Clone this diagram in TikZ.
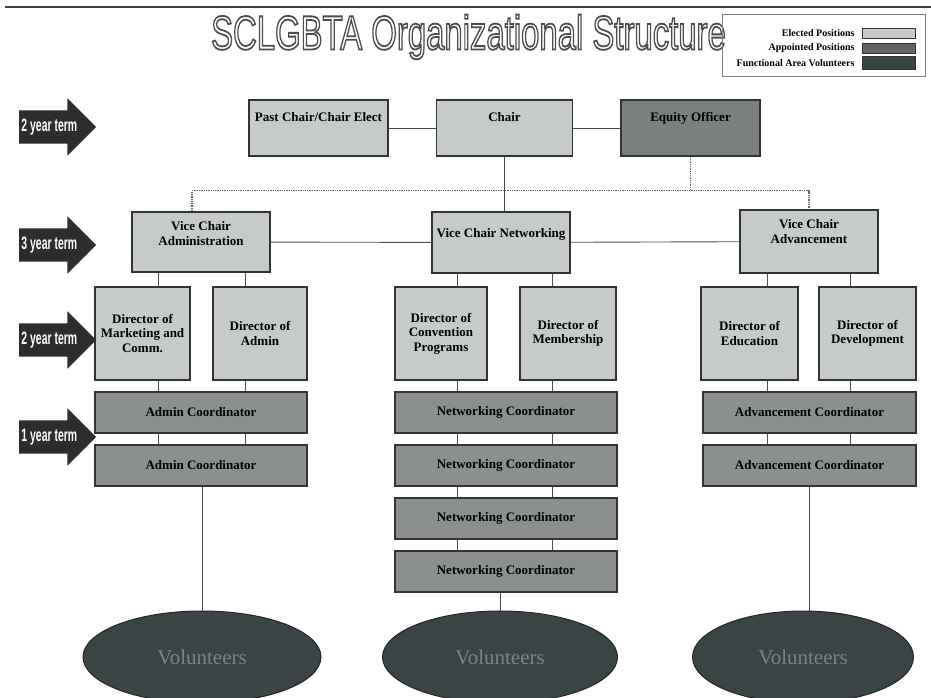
\documentclass[tikz,border=0pt]{standalone}
\usepackage{fontspec}
\setmainfont{Liberation Serif}
\setsansfont{Liberation Sans}
\usetikzlibrary{positioning, shapes.geometric, shapes.arrows, backgrounds}
\definecolor{elect}{RGB}{199,202,202}
\definecolor{appoint}{RGB}{140,143,143}
\definecolor{equityfill}{RGB}{124,127,127}
\definecolor{volfill}{RGB}{58,68,68}
\definecolor{voltext}{RGB}{122,132,132}
\definecolor{termfill}{RGB}{45,45,45}
\newcommand\outlined[1]{\textcolor{white}{\special{pdf:literal direct 2 Tr 1.8 w 0.3 G}#1\special{pdf:literal direct 0 Tr}}}
\tikzset {
    box/.style={rectangle, draw=black!80, line width=1.4pt, align=center, inner sep=2pt,
        font=\bfseries\fontsize{13}{14.5}\selectfont},
    elected/.style={box, fill=elect},
    appointed/.style={box, fill=appoint},
    toplbl/.style={anchor=north, yshift=-10pt, align=center,
        font=\bfseries\fontsize{13}{14.5}\selectfont},
    volunteer/.style={ellipse, draw=black!85, line width=1pt, fill=volfill, text=voltext,
        minimum height=92pt, font=\fontsize{21}{24}\selectfont},
    term/.style={single arrow, single arrow head extend=12pt, single arrow head indent=0pt,
        minimum height=77pt, fill=termfill, text=white, inner ysep=9pt, inner xsep=2pt,
        text height=12pt, text depth=3pt, anchor=tail,
        font=\sffamily\bfseries\fontsize{18}{20}\selectfont},
    link/.style={draw=black!70, line width=0.9pt},
    dotlink/.style={draw=black!60, line width=1.3pt, densely dotted},
    legtext/.style={anchor=east, font=\bfseries\fontsize{10}{12}\selectfont},
    swatch/.style={draw=black!80, line width=0.8pt, anchor=west, minimum width=53pt,
        minimum height=10pt, inner sep=0pt}
}

\begin{document}
\begin{tikzpicture}[x=1pt, y=-1pt]
    \useasboundingbox (0,0) rectangle (931,698);
    \draw[black!75, line width=2.5pt] (5,7) -- (931,7);

    % title and legend
    \node[font=\sffamily\fontsize{48}{52}\selectfont] (title) at (468.5,37)
        {\scalebox{0.685}[1]{\outlined{SCLGBTA Organizational Structure}}};
    \node[draw=black!50, line width=0.6pt, anchor=north west, minimum width=203pt,
        minimum height=62pt] (legend) at (722,14) {};
    \node[legtext] (legel) at (858,33) {Elected Positions};
    \node[legtext] (legap) at (858,48) {Appointed Positions};
    \node[legtext] (legvo) at (858,63) {Functional Area Volunteers};
    \node[swatch, fill=elect] (swel) at (862,33) {};
    \node[swatch, fill=appoint!70!black] (swap) at (862,48) {};
    \node[swatch, fill=volfill, minimum height=13pt] (swvo) at (862,63) {};

    % term arrows
    \foreach \n/\y/\t in {a/127/2, b/245/3, c/340/2, d/437/1}
        \node[term] (term\n) at (19,\y) {\scalebox{0.58}[1]{\t\ year term}};

    % executive
    \node[elected, minimum width=139pt, minimum height=56pt,
        label={[toplbl]north:Past Chair/Chair Elect}] (past) at (318.5,128) {};
    \node[elected, minimum width=136pt, minimum height=56pt,
        label={[toplbl]north:Chair}] (chair) at (504.5,128) {};
    \node[box, fill=equityfill, minimum width=139pt, minimum height=56pt,
        label={[toplbl]north:Equity Officer}] (equity) at (690.5,128) {};

    % vice chairs
    \node[elected, minimum width=138pt, minimum height=60pt,
        label={[toplbl, yshift=3pt]north:Vice Chair\\Administration}] (vcadm) at (201,242) {};
    \node[elected, minimum width=138pt, minimum height=61pt,
        label={[toplbl, yshift=-4pt]north:Vice Chair Networking}] (vcnet) at (501,242.5) {};
    \node[elected, minimum width=138pt, minimum height=63pt,
        label={[toplbl, yshift=3pt]north:Vice Chair\\Advancement}] (vcadv) at (809,241.5) {};

    % directors
    \node[elected, minimum width=95pt, minimum height=93pt] (dmkt) at (142.5,333.5)
        {Director of\\Marketing and\\Comm.};
    \node[elected, minimum width=94pt, minimum height=93pt] (dadm) at (260,333.5)
        {Director of\\Admin};
    \node[elected, minimum width=92pt, minimum height=93pt] (dconv) at (441,333.5)
        {Director of\\Convention\\Programs};
    \node[elected, minimum width=96pt, minimum height=93pt] (dmem) at (568,333.5)
        {Director of\\Membership};
    \node[elected, minimum width=97pt, minimum height=93pt] (dedu) at (749.5,333.5)
        {Director of\\Education};
    \node[elected, minimum width=97pt, minimum height=93pt] (ddev) at (867.5,333.5)
        {Director of\\Development};

    % coordinators
    \foreach \i/\y in {1/412.5, 2/465.5}
        \node[appointed, minimum width=212pt, minimum height=41pt] (ac\i) at (201,\y)
            {Admin Coordinator};
    \foreach \i/\y in {1/412.5, 2/465.5, 3/518.5, 4/571.5}
        \node[appointed, minimum width=222pt, minimum height=41pt] (nc\i) at (506,\y)
            {Networking Coordinator};
    \foreach \i/\y in {1/412.5, 2/465.5}
        \node[appointed, minimum width=213pt, minimum height=41pt] (adc\i) at (809.5,\y)
            {Advancement Coordinator};

    % volunteers
    \node[volunteer, minimum width=238pt] (vol1) at (202,657) {Volunteers};
    \node[volunteer, minimum width=235pt] (vol2) at (500,657) {Volunteers};
    \node[volunteer, minimum width=221pt] (vol3) at (803,657) {Volunteers};

    \begin{scope}[on background layer]
        \draw[link] (past) -- (chair) -- (equity);
        \draw[link] (vcadm) -- (vcnet) -- (vcadv);
        \draw[link] (chair.south) -- (chair.south |- vcnet.north);
        \draw[dotlink] (equity.south) -- ++(0,34) coordinate (eqbar);
        \draw[dotlink] ([xshift=-9pt]vcadm.north) |- (eqbar) -| (vcadv.north);
        % lines through the columns
        \foreach \s in {-43pt, 44pt}
            \draw[link] ([xshift=\s]vcadm.south) -- ([xshift=\s]vcadm.south |- ac2.north);
        \foreach \s in {-44pt, 51pt}
            \draw[link] ([xshift=\s]vcnet.south) -- ([xshift=\s]vcnet.south |- nc4.north);
        \foreach \s in {-42pt, 41pt}
            \draw[link] ([xshift=\s]vcadv.south) -- ([xshift=\s]vcadv.south |- adc2.north);
        \draw[link] (ac2.south -| vol1.north) -- (vol1.north);
        \draw[link] (nc4.south -| vol2.north) -- (vol2.north);
        \draw[link] (adc2.south) -- (adc2.south |- vol3.north);
    \end{scope}
\end{tikzpicture}
\end{document}
